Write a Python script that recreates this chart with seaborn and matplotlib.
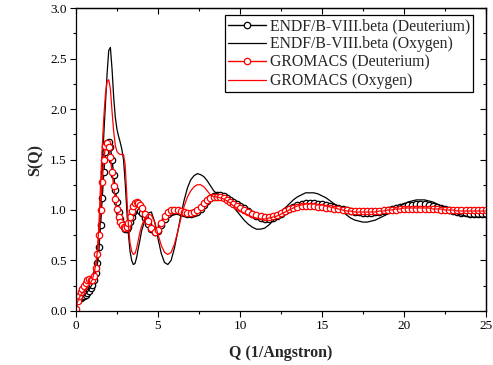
import numpy as np
import matplotlib as mpl
mpl.use('Agg')
import matplotlib.pyplot as plt
from matplotlib.ticker import AutoMinorLocator, MultipleLocator, NullFormatter
import seaborn as sns

# sampling positions (Q, 1/Angstrom)
q = np.round(np.concatenate([np.arange(0.0, 4.0, 0.1),
                             np.arange(4.0, 10.0, 0.2),
                             np.arange(10.0, 25.01, 0.25)]), 2)

endf_d = [0.10, 0.11, 0.12, 0.13, 0.14, 0.15, 0.16, 0.18, 0.20, 0.23,
          0.26, 0.31, 0.38, 0.48, 0.63, 0.85, 1.12, 1.38, 1.57, 1.66,
          1.67, 1.62, 1.50, 1.35, 1.20, 1.08, 0.98, 0.91, 0.86, 0.83,
          0.81, 0.81, 0.83, 0.88, 0.93, 0.98, 1.01, 1.02, 1.01, 0.99,
          0.97, 0.92, 0.86, 0.81, 0.78, 0.79, 0.85, 0.91, 0.96, 0.98,
          0.99, 0.99, 0.98, 0.97, 0.96, 0.96, 0.97, 0.98, 1.01, 1.05,
          1.09, 1.12, 1.14, 1.15, 1.15, 1.14, 1.12, 1.10, 1.08, 1.06,
          1.04, 1.02, 0.99, 0.96, 0.94, 0.92, 0.91, 0.91, 0.92, 0.94,
          0.96, 0.99, 1.01, 1.03, 1.05, 1.06, 1.07, 1.07, 1.07, 1.06,
          1.06, 1.05, 1.04, 1.03, 1.02, 1.01, 1.00, 0.99, 0.98, 0.98,
          0.97, 0.97, 0.97, 0.98, 0.98, 0.99, 1.00, 1.01, 1.02, 1.03,
          1.04, 1.05, 1.05, 1.06, 1.06, 1.06, 1.05, 1.04, 1.03, 1.02,
          1.01, 1.00, 0.99, 0.98, 0.97, 0.97, 0.96, 0.96, 0.96, 0.96,
          0.96]

endf_o = [0.10, 0.11, 0.12, 0.13, 0.14, 0.15, 0.17, 0.19, 0.21, 0.24,
          0.27, 0.32, 0.38, 0.45, 0.58, 0.95, 1.40, 1.75, 2.05, 2.35,
          2.58, 2.61, 2.40, 2.12, 1.92, 1.80, 1.73, 1.67, 1.60, 1.50,
          1.28, 1.00, 0.76, 0.59, 0.50, 0.46, 0.47, 0.53, 0.62, 0.70,
          0.79, 0.90, 0.97, 0.98, 0.88, 0.72, 0.57, 0.48, 0.46, 0.50,
          0.62, 0.78, 0.95, 1.10, 1.22, 1.30, 1.34, 1.36, 1.35, 1.33,
          1.29, 1.24, 1.19, 1.16, 1.14, 1.12, 1.10, 1.07, 1.03, 0.99,
          0.95, 0.90, 0.86, 0.83, 0.81, 0.81, 0.82, 0.85, 0.89, 0.93,
          0.97, 1.02, 1.06, 1.10, 1.13, 1.15, 1.17, 1.17, 1.17, 1.16,
          1.14, 1.12, 1.09, 1.06, 1.02, 0.99, 0.95, 0.92, 0.90, 0.89,
          0.88, 0.88, 0.89, 0.90, 0.92, 0.94, 0.96, 0.99, 1.01, 1.04,
          1.06, 1.08, 1.09, 1.10, 1.10, 1.10, 1.09, 1.08, 1.06, 1.04,
          1.02, 1.00, 0.98, 0.96, 0.95, 0.94, 0.93, 0.93, 0.93, 0.93,
          0.93]

gro_d = [0.02, 0.10, 0.15, 0.19, 0.22, 0.25, 0.28, 0.31, 0.32, 0.31,
         0.31, 0.35, 0.43, 0.56, 0.75, 1.00, 1.28, 1.50, 1.63, 1.66,
         1.62, 1.52, 1.38, 1.24, 1.11, 1.01, 0.93, 0.88, 0.85, 0.83,
         0.82, 0.83, 0.87, 0.93, 0.99, 1.04, 1.07, 1.08, 1.07, 1.05,
         1.02, 0.96, 0.89, 0.82, 0.78, 0.80, 0.87, 0.94, 0.98, 1.00,
         1.00, 1.00, 0.99, 0.98, 0.97, 0.97, 0.98, 1.00, 1.03, 1.07,
         1.10, 1.12, 1.13, 1.13, 1.13, 1.12, 1.10, 1.08, 1.06, 1.04,
         1.02, 1.00, 0.98, 0.96, 0.95, 0.94, 0.93, 0.93, 0.94, 0.95,
         0.97, 0.99, 1.01, 1.02, 1.03, 1.04, 1.04, 1.04, 1.04, 1.03,
         1.03, 1.02, 1.02, 1.01, 1.01, 1.00, 1.00, 0.99, 0.99, 0.99,
         0.99, 0.99, 0.99, 0.99, 0.99, 1.00, 1.00, 1.00, 1.00, 1.01,
         1.01, 1.01, 1.01, 1.01, 1.01, 1.01, 1.01, 1.01, 1.01, 1.00,
         1.00, 1.00, 1.00, 1.00, 1.00, 1.00, 1.00, 1.00, 1.00, 1.00,
         1.00]

gro_o = [0.05, 0.09, 0.13, 0.16, 0.18, 0.20, 0.22, 0.24, 0.26, 0.28,
         0.31, 0.37, 0.45, 0.58, 0.85, 1.25, 1.62, 1.92, 2.15, 2.27,
         2.29, 2.20, 1.98, 1.78, 1.64, 1.58, 1.56, 1.55, 1.55, 1.55,
         1.45, 1.15, 0.85, 0.67, 0.59, 0.56, 0.57, 0.62, 0.70, 0.78,
         0.84, 0.92, 0.96, 0.95, 0.88, 0.76, 0.65, 0.58, 0.56, 0.58,
         0.66, 0.78, 0.92, 1.04, 1.13, 1.19, 1.23, 1.25, 1.25, 1.23,
         1.19, 1.15, 1.13, 1.13, 1.12, 1.11, 1.09, 1.07, 1.04, 1.02,
         0.99, 0.97, 0.95, 0.93, 0.92, 0.91, 0.91, 0.92, 0.93, 0.94,
         0.96, 0.98, 1.00, 1.02, 1.04, 1.05, 1.06, 1.06, 1.06, 1.05,
         1.05, 1.04, 1.03, 1.02, 1.01, 1.00, 0.99, 0.99, 0.98, 0.98,
         0.98, 0.98, 0.98, 0.98, 0.99, 0.99, 1.00, 1.00, 1.01, 1.01,
         1.02, 1.02, 1.02, 1.02, 1.02, 1.02, 1.02, 1.01, 1.01, 1.01,
         1.00, 1.00, 1.00, 0.99, 0.99, 0.99, 0.99, 0.99, 0.99, 0.99,
         0.99]

labels = ['ENDF/B-VIII.beta (Deuterium)', 'ENDF/B-VIII.beta (Oxygen)',
          'GROMACS (Deuterium)', 'GROMACS (Oxygen)']


def style_ticks(axis_obj, major, labels_on):
    axis_obj.set_major_locator(MultipleLocator(major))
    axis_obj.set_minor_locator(AutoMinorLocator(2))
    if not labels_on:
        axis_obj.set_major_formatter(NullFormatter())


def main():
    sns.set_style('white')
    plt.rcParams['font.family'] = ['Liberation Serif', 'DejaVu Serif']

    fig = plt.figure(figsize=(4.93, 3.65), dpi=100)
    ax = fig.add_axes([0.154, 0.148, 0.832, 0.830])

    mk = dict(marker='o', markersize=4.6, markerfacecolor='white',
              markeredgewidth=0.9)
    sns.lineplot(x=q, y=endf_d, ax=ax, color='black', lw=1.0, sort=False,
                 estimator=None, label=labels[0], markeredgecolor='black', **mk)
    sns.lineplot(x=q, y=endf_o, ax=ax, color='black', lw=0.9, sort=False,
                 estimator=None, label=labels[1])
    sns.lineplot(x=q, y=gro_d, ax=ax, color='red', lw=1.0, sort=False,
                 estimator=None, label=labels[2], markeredgecolor='red', **mk)
    sns.lineplot(x=q, y=gro_o, ax=ax, color='red', lw=0.9, sort=False,
                 estimator=None, label=labels[3])

    ax.set_xlim(0, 25)
    ax.set_ylim(0, 3.0)
    style_ticks(ax.xaxis, 5, True)
    style_ticks(ax.yaxis, 0.5, True)
    ax.yaxis.set_major_formatter(mpl.ticker.FormatStrFormatter('%.1f'))
    ax.tick_params(which='both', direction='out', top=False, right=False,
                   bottom=True, left=True, labelsize=9.5, width=0.8,
                   colors='black', pad=2)
    ax.tick_params(which='major', length=4.5)
    ax.tick_params(which='minor', length=2.5)

    # mirrored axes on top/right with inward ticks, no labels
    top = ax.secondary_xaxis('top')
    style_ticks(top.xaxis, 5, False)
    right = ax.secondary_yaxis('right')
    style_ticks(right.yaxis, 0.5, False)
    for sec in (top, right):
        sec.tick_params(which='both', direction='in', width=0.8, colors='black')
        sec.tick_params(which='major', length=4.5)
        sec.tick_params(which='minor', length=2.5)
        for s in sec.spines.values():
            s.set_color('black')
            s.set_linewidth(0.9)
    for s in ax.spines.values():
        s.set_color('black')
        s.set_linewidth(0.9)

    ax.set_xlabel('Q (1/Angstron)', fontsize=11.5, fontweight='bold', labelpad=9)
    ax.set_ylabel('S(Q)', fontsize=11.5, fontweight='bold', labelpad=5)

    leg = ax.legend(loc='upper right', bbox_to_anchor=(0.968, 0.977),
                    fontsize=11.3, frameon=True, fancybox=False,
                    edgecolor='black', framealpha=1, handlelength=2.4,
                    handletextpad=0.25, borderpad=0.2, labelspacing=0.15,
                    borderaxespad=0, numpoints=1)
    leg.get_frame().set_linewidth(0.9)

    plt.savefig('out.png', dpi=100)


if __name__ == '__main__':
    main()
